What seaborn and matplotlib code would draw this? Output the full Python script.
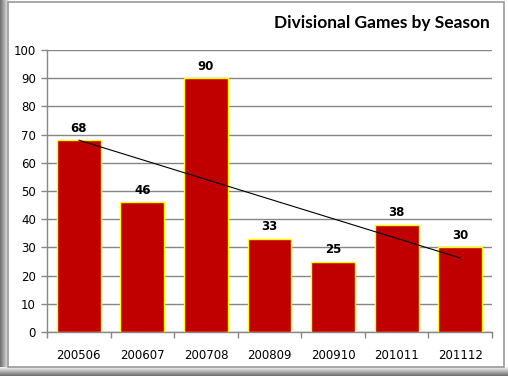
import numpy as np
import pandas as pd
import seaborn as sns
import matplotlib.pyplot as plt
from matplotlib.patches import Rectangle

seasons = ["200506", "200607", "200708", "200809", "200910", "201011", "201112"]
games = [68, 46, 90, 33, 25, 38, 30]
yticks = list(range(0, 101, 10))
title = "Divisional Games by Season"

df = pd.DataFrame({"season": seasons, "games": games})

sns.set_theme(style="white")
plt.rcParams['font.family'] = ['DejaVu Sans']

fig = plt.figure(figsize=(5.08, 3.76), dpi=100)
fig.patch.set_facecolor("white")

# frame with shadow
for i in range(9):
    g = 0.45 + i * 0.06
    fig.patches.append(Rectangle((i / 508, 0), 1 / 508, 1, transform=fig.transFigure,
                                 facecolor=(g, g, g), edgecolor="none", zorder=-5))
for i in range(9):
    g = 0.45 + i * 0.06
    fig.patches.append(Rectangle((0, (i) / 376), 1, 1 / 376, transform=fig.transFigure,
                                 facecolor=(g, g, g), edgecolor="none", zorder=-5))
fig.patches.append(Rectangle((8 / 508, 9 / 376), 496 / 508, 365 / 376, transform=fig.transFigure,
                             facecolor="white", edgecolor="#9a9a9a", linewidth=1.2, zorder=-4))

ax = fig.add_axes([47 / 508, 44 / 376, 445 / 508, 282 / 376])
ax.set_zorder(2)
ax.set_facecolor("none")

sns.barplot(data=df, x="season", y="games", ax=ax, color="#C00000",
            saturation=1, width=0.69, edgecolor="#FFFF00", linewidth=1, zorder=3)

# linear trendline
xs = np.arange(len(games))
coef = np.polyfit(xs, games, 1)
ax.plot(xs, np.polyval(coef, xs), color="black", linewidth=0.8, zorder=4)

for x, v in zip(xs, games):
    ax.annotate(str(v), (x, v), xytext=(0, 4), textcoords="offset points",
                ha="center", va="bottom", fontsize=8.5, fontweight="bold", color="black", zorder=5)

ax.set_ylim(0, 100)
ax.set_xlim(-0.5, len(games) - 0.5)
ax.set_yticks(yticks)
ax.set_yticklabels([str(t) for t in yticks], fontsize=8.5, color="black")
ax.yaxis.grid(True, color="#868686", linewidth=1)
ax.set_axisbelow(True)
ax.tick_params(axis="y", length=4, color="#868686", width=1, pad=4, left=True)
ax.set_xticks(xs)
ax.set_xticklabels(seasons, fontsize=8.5, color="black")
ax.tick_params(axis="x", length=0, pad=12)
ax.set_xticks(np.arange(-0.5, len(games), 1), minor=True)
ax.tick_params(axis="x", which="minor", length=4, color="#868686", width=1, bottom=True)
ax.set_xlabel("")
ax.set_ylabel("")
for s in ["top", "right"]:
    ax.spines[s].set_visible(False)
for s in ["left", "bottom"]:
    ax.spines[s].set_color("#868686")
    ax.spines[s].set_linewidth(1)

fig.text(490 / 508, 1 - 23 / 376, title, ha="right", va="center", fontsize=12.5,
         fontweight="bold", family=["Lato", "DejaVu Sans"], color="black")

fig.savefig("out.png", dpi=100)
